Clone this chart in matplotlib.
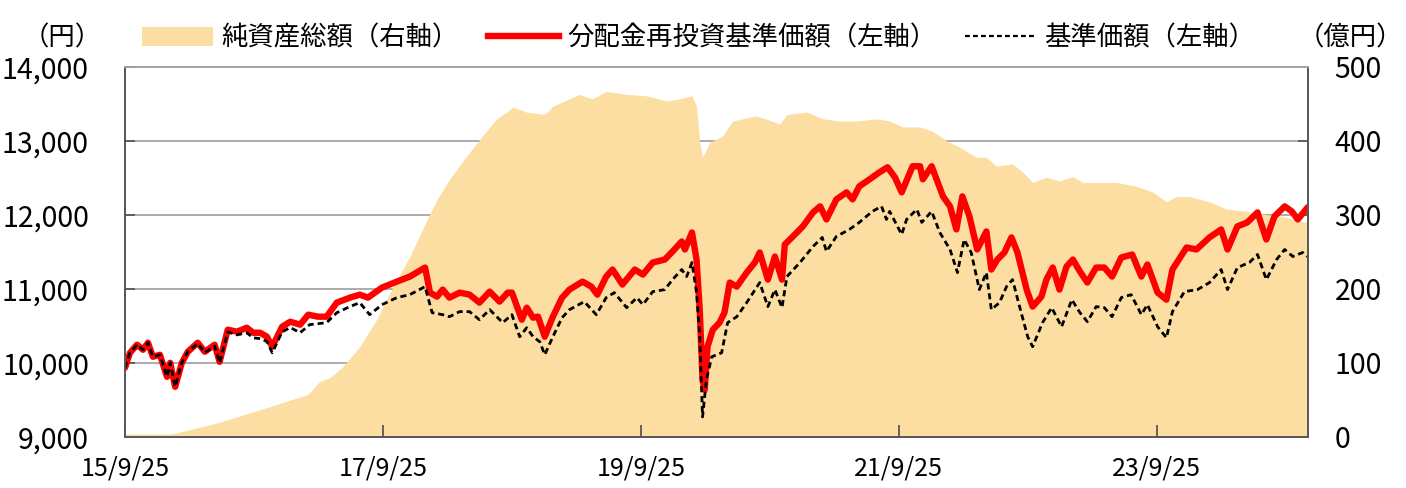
import matplotlib
matplotlib.use("Agg")
import matplotlib.pyplot as plt
import matplotlib.ticker as mticker
from matplotlib.patches import Patch
from matplotlib.lines import Line2D
import pandas as pd

plt.rcParams['font.family'] = ['Noto Sans CJK JP', 'DejaVu Sans']

# 分配金再投資基準価額 (left axis, yen)
red_dates = [
    "2015-09-25", "2015-10-09", "2015-10-29", "2015-11-15", "2015-11-29", "2015-12-13",
    "2016-01-02", "2016-01-22", "2016-01-31", "2016-02-14", "2016-03-04", "2016-03-21",
    "2016-04-18", "2016-05-08", "2016-06-05", "2016-06-19", "2016-07-12", "2016-08-07",
    "2016-09-04", "2016-09-22", "2016-10-12", "2016-10-31", "2016-11-15", "2016-12-13",
    "2017-01-05", "2017-02-02", "2017-02-25", "2017-03-24", "2017-04-18", "2017-05-17",
    "2017-06-23", "2017-07-21", "2017-08-13", "2017-09-22", "2017-11-03", "2017-12-10",
    "2018-01-22", "2018-02-05", "2018-02-25", "2018-03-13", "2018-04-01", "2018-04-30",
    "2018-05-28", "2018-06-25", "2018-07-24", "2018-08-21", "2018-09-13", "2018-09-25",
    "2018-10-23", "2018-11-06", "2018-11-24", "2018-12-08", "2018-12-27", "2019-01-19",
    "2019-02-14", "2019-03-07", "2019-04-13", "2019-05-08", "2019-05-25", "2019-06-19",
    "2019-07-07", "2019-08-04", "2019-09-08", "2019-10-01", "2019-10-29", "2019-12-02",
    "2019-12-24", "2020-01-19", "2020-01-28", "2020-02-17", "2020-03-01", "2020-03-10",
    "2020-03-18", "2020-03-24", "2020-04-01", "2020-04-16", "2020-05-05", "2020-05-19",
    "2020-06-03", "2020-06-23", "2020-07-21", "2020-08-13", "2020-08-27", "2020-09-19",
    "2020-10-09", "2020-10-29", "2020-11-06", "2020-11-29", "2020-12-27", "2021-01-25",
    "2021-02-14", "2021-03-04", "2021-04-01", "2021-04-30", "2021-05-17", "2021-06-05",
    "2021-07-04", "2021-08-01", "2021-08-24", "2021-09-14", "2021-10-03", "2021-11-03",
    "2021-11-24", "2021-12-02", "2021-12-27", "2022-01-13", "2022-01-28", "2022-02-17",
    "2022-03-07", "2022-03-24", "2022-04-13", "2022-05-05", "2022-05-31", "2022-06-14",
    "2022-07-01", "2022-07-21", "2022-08-10", "2022-08-27", "2022-09-22", "2022-10-09",
    "2022-11-03", "2022-11-17", "2022-12-05", "2022-12-24", "2023-01-13", "2023-01-31",
    "2023-02-20", "2023-03-13", "2023-04-07", "2023-04-30", "2023-05-22", "2023-06-17",
    "2023-07-18", "2023-08-13", "2023-08-30", "2023-09-28", "2023-10-23", "2023-11-09",
    "2023-12-19", "2024-01-16", "2024-02-22", "2024-03-26", "2024-04-13", "2024-05-11",
    "2024-06-08", "2024-07-07", "2024-08-01", "2024-08-24", "2024-09-22", "2024-10-12",
    "2024-10-29", "2024-11-26",
]
red_values = [
    9935, 10138, 10247, 10179, 10274, 10084,
    10111, 9813, 10003, 9678, 10003, 10152,
    10274, 10152, 10247, 10016, 10450, 10423,
    10477, 10409, 10409, 10355, 10220, 10490,
    10558, 10518, 10653, 10626, 10626, 10816,
    10883, 10924, 10883, 11019, 11100, 11168,
    11290, 10951, 10897, 10992, 10883, 10951,
    10924, 10816, 10965, 10829, 10951, 10951,
    10585, 10748, 10612, 10626, 10355, 10626,
    10883, 10992, 11100, 11032, 10924, 11168,
    11263, 11060, 11263, 11195, 11358, 11398,
    11507, 11642, 11534, 11764, 11398, 10721,
    9772, 9637, 10220, 10450, 10545, 10680,
    11087, 11032, 11222, 11358, 11493, 11127,
    11439, 11127, 11602, 11710, 11846, 12035,
    12117, 11940, 12211, 12306, 12211, 12388,
    12482, 12577, 12645, 12509, 12306, 12659,
    12659, 12482, 12659, 12442, 12252, 12117,
    11805, 12252, 11981, 11534, 11778, 11263,
    11398, 11493, 11697, 11493, 10992, 10762,
    10897, 11127, 11290, 10992, 11304, 11398,
    11236, 11087, 11290, 11290, 11168, 11425,
    11466, 11168, 11331, 10951, 10856, 11263,
    11561, 11534, 11697, 11805, 11534, 11846,
    11900, 12035, 11669, 11981, 12117, 12049,
    11940, 12103,
]

# 基準価額 (left axis, yen)
nav_dates = [
    "2015-09-25", "2015-10-09", "2015-10-29", "2015-11-15", "2015-11-29", "2015-12-13",
    "2016-01-02", "2016-01-22", "2016-01-31", "2016-02-14", "2016-03-04", "2016-03-21",
    "2016-04-18", "2016-05-08", "2016-06-05", "2016-06-19", "2016-07-12", "2016-08-07",
    "2016-09-04", "2016-09-22", "2016-10-12", "2016-10-31", "2016-11-15", "2016-12-13",
    "2017-01-05", "2017-02-02", "2017-03-01", "2017-04-18", "2017-05-17", "2017-06-23",
    "2017-07-21", "2017-08-18", "2017-09-22", "2017-11-03", "2017-12-10", "2018-01-22",
    "2018-02-11", "2018-03-13", "2018-04-01", "2018-04-30", "2018-05-28", "2018-06-25",
    "2018-07-24", "2018-08-30", "2018-09-25", "2018-10-17", "2018-11-06", "2018-11-24",
    "2018-12-13", "2018-12-27", "2019-01-19", "2019-02-14", "2019-03-07", "2019-04-18",
    "2019-05-22", "2019-06-19", "2019-07-12", "2019-08-16", "2019-09-14", "2019-10-01",
    "2019-10-29", "2019-12-02", "2019-12-24", "2020-01-19", "2020-02-02", "2020-02-17",
    "2020-03-01", "2020-03-10", "2020-03-18", "2020-03-29", "2020-04-13", "2020-05-11",
    "2020-05-28", "2020-06-23", "2020-07-21", "2020-08-27", "2020-09-19", "2020-10-09",
    "2020-10-29", "2020-11-12", "2020-12-19", "2021-01-25", "2021-02-20", "2021-03-04",
    "2021-04-01", "2021-05-08", "2021-06-05", "2021-07-12", "2021-08-07", "2021-08-21",
    "2021-08-30", "2021-10-03", "2021-10-17", "2021-11-15", "2021-11-29", "2021-12-27",
    "2022-01-19", "2022-02-17", "2022-03-10", "2022-03-29", "2022-04-18", "2022-05-11",
    "2022-05-31", "2022-06-14", "2022-07-07", "2022-07-27", "2022-08-13", "2022-09-02",
    "2022-09-25", "2022-10-09", "2022-11-06", "2022-12-02", "2022-12-30", "2023-01-28",
    "2023-02-20", "2023-03-13", "2023-04-07", "2023-04-30", "2023-05-22", "2023-06-17",
    "2023-07-15", "2023-08-13", "2023-08-30", "2023-09-28", "2023-10-23", "2023-11-09",
    "2023-12-13", "2024-01-19", "2024-02-22", "2024-03-26", "2024-04-13", "2024-05-11",
    "2024-06-14", "2024-07-07", "2024-08-01", "2024-08-30", "2024-09-22", "2024-10-15",
    "2024-11-12", "2024-11-26",
]
nav_values = [
    9935, 10138, 10247, 10179, 10274, 10084,
    10111, 9813, 10003, 9678, 10003, 10152,
    10265, 10140, 10230, 10000, 10420, 10380,
    10409, 10340, 10330, 10290, 10138, 10420,
    10480, 10409, 10518, 10545, 10680, 10762,
    10816, 10653, 10789, 10883, 10924, 11032,
    10680, 10653, 10626, 10694, 10694, 10585,
    10721, 10545, 10653, 10355, 10477, 10355,
    10287, 10111, 10355, 10612, 10721, 10829,
    10653, 10883, 10951, 10748, 10883, 10789,
    10965, 10992, 11127, 11263, 11168, 11358,
    10951, 10355, 9271, 9772, 10084, 10138,
    10545, 10626, 10816, 11087, 10762, 10992,
    10748, 11168, 11358, 11575, 11697, 11507,
    11710, 11805, 11900, 12049, 12117, 11940,
    12049, 11737, 11940, 12076, 11900, 12049,
    11764, 11534, 11222, 11669, 11493, 10992,
    11222, 10721, 10816, 11032, 11127, 10762,
    10355, 10220, 10545, 10748, 10490, 10856,
    10680, 10558, 10762, 10748, 10626, 10883,
    10924, 10653, 10789, 10490, 10341, 10694,
    10965, 10992, 11087, 11263, 10992, 11290,
    11358, 11466, 11127, 11398, 11534, 11439,
    11493, 11439,
]

# 純資産総額 (right axis, 億円)
aum_dates = [
    "2015-09-25", "2016-01-31", "2016-02-14", "2016-03-18", "2016-06-19", "2016-09-22",
    "2016-11-09", "2017-01-05", "2017-02-22", "2017-03-01", "2017-03-29", "2017-04-27",
    "2017-06-03", "2017-07-21", "2017-09-07", "2017-10-23", "2017-12-10", "2018-01-28",
    "2018-02-25", "2018-04-01", "2018-05-19", "2018-07-04", "2018-08-13", "2018-09-13",
    "2018-09-28", "2018-11-06", "2018-12-27", "2019-01-19", "2019-04-04", "2019-05-11",
    "2019-06-19", "2019-08-16", "2019-10-12", "2019-12-08", "2020-01-13", "2020-02-17",
    "2020-03-01", "2020-03-10", "2020-03-18", "2020-04-07", "2020-05-14", "2020-06-11",
    "2020-08-18", "2020-10-23", "2020-11-12", "2021-01-08", "2021-02-22", "2021-04-10",
    "2021-05-28", "2021-07-24", "2021-08-30", "2021-10-06", "2021-11-24", "2021-12-30",
    "2022-02-08", "2022-03-15", "2022-05-03", "2022-05-31", "2022-06-28", "2022-08-13",
    "2022-09-11", "2022-10-09", "2022-11-17", "2022-12-24", "2023-01-31", "2023-02-28",
    "2023-04-07", "2023-06-03", "2023-07-29", "2023-09-14", "2023-10-23", "2023-11-21",
    "2023-12-27", "2024-02-22", "2024-04-10", "2024-06-05", "2024-07-21", "2024-09-17",
    "2024-11-12", "2024-11-26",
]
aum_values = [
    4, 4, 5, 9, 20, 34,
    41, 50, 57, 60, 75, 80,
    95, 122, 159, 203, 244, 294,
    321, 348, 379, 407, 430, 440,
    446, 439, 436, 447, 463, 457,
    467, 463, 461, 454, 457, 461,
    447, 398, 378, 398, 407, 427,
    434, 423, 436, 439, 430, 427,
    427, 430, 427, 419, 419, 413,
    400, 392, 378, 378, 366, 369,
    358, 344, 351, 346, 352, 344,
    344, 344, 339, 331, 318, 325,
    325, 318, 308, 305, 301, 298,
    291, 290,
]

tick_dates = ["2015-09-25", "2017-09-25", "2019-09-25", "2021-09-25", "2023-09-25"]
tick_labels = ["15/9/25", "17/9/25", "19/9/25", "21/9/25", "23/9/25"]

area_color = "#FDDEA2"
dash = (0, (2.2, 1.4))

fig = plt.figure(figsize=(14.06, 4.88), dpi=100)
ax = fig.add_axes([125 / 1406, 51 / 488, 1183 / 1406, 370 / 488])
ax_r = ax.twinx()
# area + grid sit on the right axis, lines above them
ax.set_zorder(ax_r.get_zorder() + 1)
ax.patch.set_visible(False)

ax_r.fill_between(pd.to_datetime(aum_dates), aum_values, 0,
                  color=area_color, linewidth=0, zorder=2)
ax_r.set_ylim(0, 500)
ax_r.set_yticks(range(0, 501, 100))
ax_r.yaxis.grid(True, color="#A6A6A6", linewidth=1.3, zorder=0)
ax_r.set_axisbelow(True)

ax.plot(pd.to_datetime(red_dates), red_values, color="#FF0000", linewidth=4.6,
        solid_joinstyle="round", solid_capstyle="round")
ax.plot(pd.to_datetime(nav_dates), nav_values, color="black", linewidth=2.0,
        linestyle=dash)

ax.set_ylim(9000, 14000)
ax.set_yticks(range(9000, 14001, 1000))
ax.yaxis.set_major_formatter(mticker.StrMethodFormatter("{x:,.0f}"))
ax.set_xlim(pd.Timestamp("2015-09-25"), pd.Timestamp("2024-11-27"))
ax.set_xticks(pd.to_datetime(tick_dates))
ax.set_xticklabels(tick_labels)

for a in (ax, ax_r):
    for side in ("left", "right", "bottom"):
        a.spines[side].set_color("#595959")
        a.spines[side].set_linewidth(1.3)
    a.spines["top"].set_color("#A6A6A6")
    a.spines["top"].set_linewidth(1.3)

ax.tick_params(axis="y", direction="in", length=7, width=1.3, color="#595959",
               labelsize=20.5, pad=26)
ax.tick_params(axis="x", direction="in", length=9, width=1.3, color="#595959",
               labelsize=18, pad=13)
ax_r.tick_params(axis="y", direction="in", length=7, width=1.3, color="#595959",
                 labelsize=20.5, pad=19)

handles = [
    Patch(facecolor=area_color, edgecolor="none"),
    Line2D([], [], color="#FF0000", linewidth=4.6),
    Line2D([], [], color="black", linewidth=1.6, linestyle=dash),
]
labels = ["純資産総額（右軸）", "分配金再投資基準価額（左軸）", "基準価額（左軸）"]
fig.legend(handles, labels, loc="center", bbox_to_anchor=(0.497, 0.922), ncol=3,
           frameon=False, fontsize=19, handlelength=2.7, handletextpad=0.3,
           columnspacing=1.1)

fig.text(62 / 1406, 0.922, "（円）", ha="center", va="center", fontsize=19)
fig.text(1350 / 1406, 0.922, "（億円）", ha="center", va="center", fontsize=19)

fig.savefig("out.png", dpi=100)
